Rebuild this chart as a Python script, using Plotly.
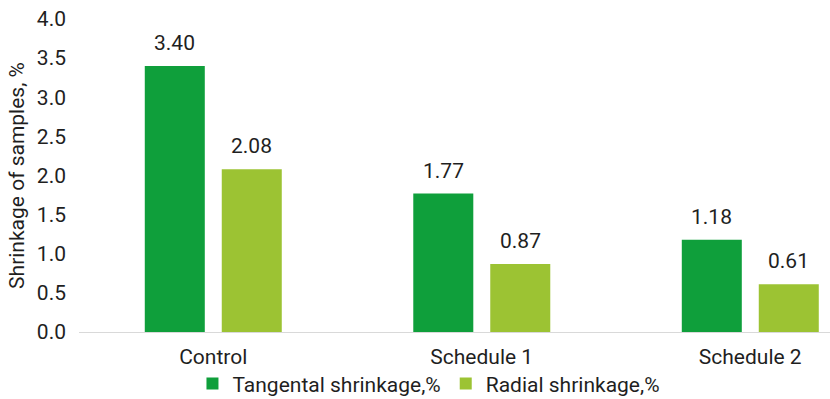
import plotly.graph_objects as go

categories = ["Control", "Schedule 1", "Schedule 2"]
tangental = [3.40, 1.77, 1.18]
radial = [2.08, 0.87, 0.61]
series_names = ["Tangental shrinkage,%", "Radial shrinkage,%"]
y_ticks = [0.0, 0.5, 1.0, 1.5, 2.0, 2.5, 3.0, 3.5, 4.0]

FONT = "Roboto"
TXT = "#1f1f1f"
FS = 21

fig = go.Figure()
specs = [(series_names[0], tangental, "#0f9f3b", -0.255),
         (series_names[1], radial, "#9cc333", 0.0317)]
for name, vals, col, off in specs:
    fig.add_trace(go.Bar(
        x=categories, y=vals, name=name,
        marker=dict(color=col, line=dict(width=0)),
        width=0.2235, offset=off,
        cliponaxis=False,
    ))
    for c, v in zip(categories, vals):
        fig.add_annotation(x=c, y=v, text=f"{v:.2f}", showarrow=False,
                           xshift=(off + 0.2235 / 2) * 268.5, yshift=23,
                           font=dict(family=FONT, size=FS, color=TXT))

fig.update_layout(
    width=830, height=399,
    margin=dict(l=79, r=0, t=19, b=67, autoexpand=False),
    paper_bgcolor="white", plot_bgcolor="white",
    barmode="overlay",
    font=dict(family=FONT, size=FS, color=TXT),
    showlegend=True,
    legend=dict(orientation="h", xref="paper", x=0.466, xanchor="center",
                yref="paper", y=-0.1, yanchor="top",
                bgcolor="rgba(0,0,0,0)",
                font=dict(family=FONT, size=21, color=TXT), itemwidth=30,
                traceorder="normal"),
    xaxis=dict(range=[-0.5, 2.297], showline=True, linecolor="#d9d9d9", linewidth=1,
               ticks="", showgrid=False, ticklabelstandoff=6, automargin=False,
               tickfont=dict(family=FONT, size=FS, color=TXT)),
    yaxis=dict(range=[0, 4], tickvals=y_ticks, ticktext=[f"{v:.1f}" for v in y_ticks],
               showgrid=False, zeroline=False, showline=False, ticks="",
               ticklabelstandoff=12, automargin=False,
               tickfont=dict(family=FONT, size=FS, color=TXT),
               title=dict(text="Shrinkage of samples, %", standoff=6,
                          font=dict(family=FONT, size=FS, color=TXT))),
)

fig.write_html("out.html")
